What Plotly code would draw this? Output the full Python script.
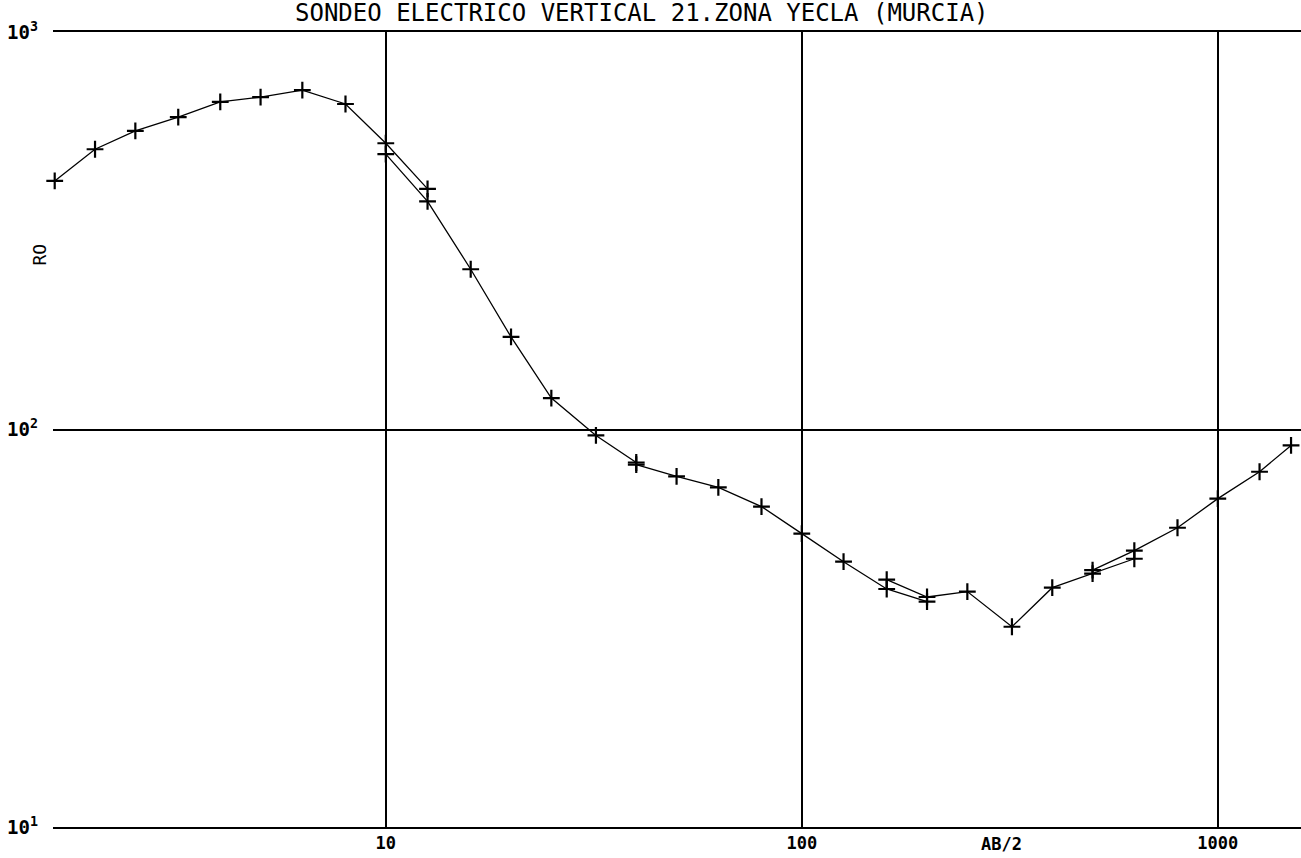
import plotly.graph_objects as go

# AB/2 spacings and apparent resistivities (RO)
seg1_ab2 = [1.6, 2.0, 2.5, 3.17, 4.0, 5.0, 6.3, 8.0, 10.0, 12.6]
seg1_ro = [422, 507, 564, 611, 667, 686, 714, 659, 525, 403]

seg2_ab2 = [10.0, 12.6, 16.0, 20.0, 25.0, 32.0, 40.0]
seg2_ro = [493, 375, 253, 171, 120, 96.6, 82.6]

seg3_ab2 = [40.0, 50.0, 63.0, 80.0, 100.0, 126.0, 160.0, 200.0]
seg3_ro = [81.6, 76.2, 71.5, 64.0, 54.7, 46.5, 39.7, 36.9]

seg4_ab2 = [160.0, 200.0, 250.0, 320.0, 400.0, 500.0, 630.0]
seg4_ro = [41.9, 37.9, 39.1, 31.9, 40.0, 43.4, 47.3]

seg5_ab2 = [500.0, 630.0, 800.0, 1000.0, 1260.0, 1500.0]
seg5_ro = [44.3, 49.6, 56.6, 67.0, 78.3, 91.2]

segments = [(seg1_ab2, seg1_ro), (seg2_ab2, seg2_ro), (seg3_ab2, seg3_ro),
            (seg4_ab2, seg4_ro), (seg5_ab2, seg5_ro)]

x_tickvals = [10, 100, 1000]
x_ticktext = ["10", "100", "1000"]
y_tickvals = [10, 100, 1000]
y_ticktext = ["10<sup>1</sup>", "10<sup>2</sup>", "10<sup>3</sup>"]

title_text = "SONDEO ELECTRICO VERTICAL 21.ZONA YECLA (MURCIA)"
x_title = "AB/2"
y_title = "RO"

FONT = "DejaVu Sans Mono"

fig = go.Figure()
for xs, ys in segments:
    fig.add_trace(go.Scatter(
        x=xs, y=ys, mode="lines+markers",
        line=dict(color="black", width=1.3),
        marker=dict(symbol="cross-thin", size=12, color="black",
                    line=dict(width=2.2, color="black")),
        showlegend=False, hoverinfo="x+y", cliponaxis=False,
    ))

fig.update_layout(
    width=1301, height=858,
    margin=dict(l=53, r=0, t=32, b=31),
    paper_bgcolor="white", plot_bgcolor="white",
    font=dict(family=FONT, color="black", size=15),
    showlegend=False,
    annotations=[
        dict(text=title_text, xref="paper", yref="paper", x=0.472, y=1.0,
             yshift=3, xanchor="center", yanchor="bottom", showarrow=False,
             font=dict(family=FONT, size=24, color="black")),
        dict(text=x_title, xref="x", yref="paper", x=2.48, y=0,
             yshift=-5, xanchor="center", yanchor="top", showarrow=False,
             font=dict(family=FONT, size=17, color="black", weight="bold")),
        dict(text=y_title, xref="paper", yref="paper", x=-0.0104, y=0.72,
             xanchor="center", yanchor="middle", showarrow=False, textangle=-90,
             font=dict(family=FONT, size=18, color="black")),
    ],
)

fig.update_xaxes(
    type="log", range=[0.2, 3.2],
    tickvals=x_tickvals, ticktext=x_ticktext,
    showgrid=True, gridcolor="black", gridwidth=2,
    showline=True, mirror=True, linecolor="black", linewidth=2,
    ticks="", zeroline=False,
    tickfont=dict(family=FONT, size=17, color="black", weight="bold"),
)
fig.update_yaxes(
    type="log", range=[1, 3],
    tickvals=y_tickvals, ticktext=y_ticktext,
    showgrid=True, gridcolor="black", gridwidth=2,
    showline=False, ticks="", zeroline=False,
    ticklabelstandoff=14,
    tickfont=dict(family=FONT, size=19, color="black", weight="bold"),
)

fig.write_html("out.html")
